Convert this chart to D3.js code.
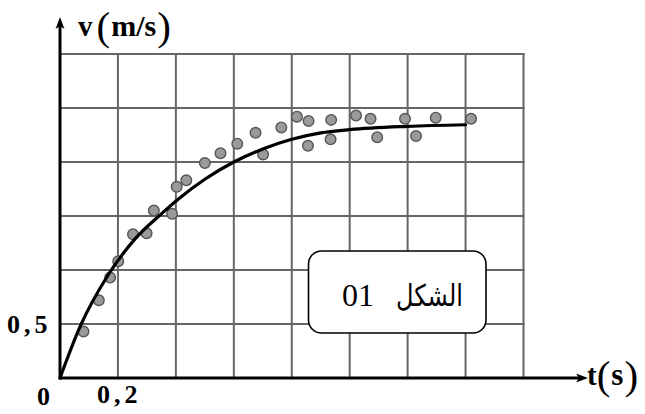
<!DOCTYPE html>
<html lang="ar">
<head>
    <meta charset="UTF-8">
    <title>v(t)</title>
    <script src="https://d3js.org/d3.v7.min.js"></script>
    <style>
        html,
        body {
            margin: 0;
            background: #fff;
            overflow: hidden;
        }
    </style>
</head>
<body>
    <svg id="svg"></svg>
    <script>
        // measured points (t in s, v in m/s)
        const dotT = [0.081, 0.134, 0.173, 0.201, 0.252, 0.299, 0.324, 0.387, 0.403, 0.436,
            0.500, 0.554, 0.612, 0.675, 0.701, 0.764, 0.818, 0.858, 0.856, 0.936,
            0.934, 1.022, 1.072, 1.095, 1.191, 1.229, 1.297, 1.419];
        const dotV = [0.43, 0.72, 0.93, 1.08, 1.33, 1.34, 1.55, 1.52, 1.77, 1.83,
            1.99, 2.08, 2.17, 2.27, 2.07, 2.32, 2.42, 2.38, 2.15, 2.39,
            2.21, 2.43, 2.40, 2.23, 2.40, 2.24, 2.41, 2.40];
        // fitted curve
        const curveT = [0, 0.07, 0.17, 0.26, 0.35, 0.41, 0.5, 0.6, 0.7, 0.8, 0.9, 1.0, 1.2, 1.4];
        const curveV = [0, 0.48, 0.97, 1.29, 1.52, 1.66, 1.84, 2.0, 2.12, 2.21, 2.27, 2.30, 2.33, 2.345];
        const xLabels = [{ t: 0.2, text: '0,2' }];
        const yLabels = [{ v: 0.5, text: '0,5' }];
        const boxWord = 'الشكل';
        const boxNum = '01';

        const width = 645, height = 414;
        const svg = d3.select('#svg').attr('width', width).attr('height', height);

        const x = d3.scaleLinear().domain([0, 1.6]).range([60, 523.5]);
        const y = d3.scaleLinear().domain([0, 3]).range([378, 54]);

        const grid = svg.append('g').attr('stroke', '#666').attr('stroke-width', 2);
        grid.selectAll('.vl').data(x.ticks(8).slice(1)).join('line')
            .attr('class', 'vl')
            .attr('x1', d => x(d)).attr('x2', d => x(d))
            .attr('y1', y(0)).attr('y2', y(3) - 1);
        grid.selectAll('.hl').data(y.ticks(6).slice(1)).join('line')
            .attr('class', 'hl')
            .attr('x1', x(0)).attr('x2', x(1.6) + 1)
            .attr('y1', d => y(d)).attr('y2', d => y(d));

        // axes with arrows
        const ax = svg.append('g');
        ax.append('line').attr('x1', x(0)).attr('y1', y(0)).attr('x2', 580).attr('y2', y(0))
            .attr('stroke', '#000').attr('stroke-width', 3);
        ax.append('path').attr('d', `M588,${y(0)} L576,${y(0) - 4.5} L579,${y(0)} L576,${y(0) + 4.5} Z`).attr('fill', '#000');
        ax.append('line').attr('x1', x(0)).attr('y1', y(0) + 1.5).attr('x2', x(0)).attr('y2', 26)
            .attr('stroke', '#000').attr('stroke-width', 3);
        ax.append('path').attr('d', `M${x(0)},17 L${x(0) - 4.5},29 L${x(0)},26 L${x(0) + 4.5},29 Z`).attr('fill', '#000');

        // data dots
        svg.append('g').selectAll('circle').data(dotT).join('circle')
            .attr('cx', d => x(d))
            .attr('cy', (d, i) => y(dotV[i]))
            .attr('r', 5.3)
            .attr('fill', '#9a9a9a')
            .attr('stroke', '#555')
            .attr('stroke-width', 1.4);

        // curve
        const line = d3.line().x(d => x(d)).y((d, i) => y(curveV[i])).curve(d3.curveMonotoneX);
        svg.append('path').attr('d', line(curveT))
            .attr('fill', 'none').attr('stroke', '#000').attr('stroke-width', 3.2)
            .attr('stroke-linecap', 'round');

        // box
        svg.append('rect').attr('x', 308.5).attr('y', 251).attr('width', 177.5).attr('height', 82)
            .attr('rx', 13).attr('fill', '#fff').attr('stroke', '#000').attr('stroke-width', 1.6);
        svg.append('text').attr('x', 342).attr('y', 306)
            .attr('font-family', '"Liberation Serif", serif')
            .attr('font-size', 32).text(boxNum);
        svg.append('text').attr('x', 463).attr('y', 306)
            .attr('text-anchor', 'end')
            .attr('font-family', '"DejaVu Sans", sans-serif')
            .attr('font-size', 30)
            .attr('textLength', 67).attr('lengthAdjust', 'spacingAndGlyphs')
            .text(boxWord);

        // labels
        const serif = '"Liberation Serif", "Times New Roman", serif';
        svg.selectAll('.xl').data(xLabels).join('text').attr('class', 'xl')
            .attr('x', d => x(d.t) - 21).attr('y', 403)
            .attr('font-family', serif).attr('font-weight', 'bold').attr('font-size', 26)
            .attr('letter-spacing', 4)
            .text(d => d.text);
        svg.selectAll('.yl').data(yLabels).join('text').attr('class', 'yl')
            .attr('x', 7).attr('y', d => y(d.v) + 9)
            .attr('font-family', serif).attr('font-weight', 'bold').attr('font-size', 26)
            .attr('letter-spacing', 4)
            .text(d => d.text);
        svg.append('text').attr('x', 37).attr('y', 405)
            .attr('font-family', serif).attr('font-weight', 'bold').attr('font-size', 26).text('0');

        const vl = svg.append('text').attr('x', 78).attr('y', 36).attr('font-family', serif);
        vl.append('tspan').attr('font-weight', 'bold').attr('font-size', 29).text('v');
        vl.append('tspan').attr('font-size', 41).attr('dx', 4).attr('dy', 4).text('(');
        vl.append('tspan').attr('font-weight', 'bold').attr('font-size', 30).attr('dx', 1).attr('dy', -4).text('m/s');
        vl.append('tspan').attr('font-size', 41).attr('dx', 1).attr('dy', 4).text(')');

        const tl = svg.append('text').attr('x', 587).attr('y', 385).attr('font-family', serif);
        tl.append('tspan').attr('font-weight', 'bold').attr('font-size', 29).text('t');
        tl.append('tspan').attr('font-size', 41).attr('dy', 4).text('(');
        tl.append('tspan').attr('font-weight', 'bold').attr('font-size', 31).attr('dx', 1).attr('dy', -4).text('s');
        tl.append('tspan').attr('font-size', 41).attr('dx', 1).attr('dy', 4).text(')');
    </script>
</body>
</html>
